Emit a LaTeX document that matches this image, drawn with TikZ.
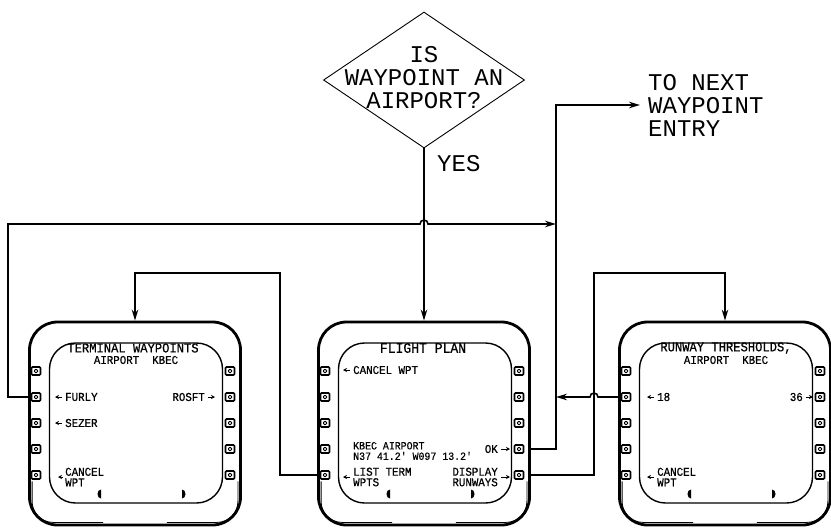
\documentclass[tikz,border=0pt]{standalone}
\usepackage{fontspec}
\newfontfamily\cadfont{Liberation Mono}
\newfontfamily\cadnarrow[FakeStretch=0.9, FakeBold=0.6]{Liberation Mono}
\usetikzlibrary{arrows.meta, positioning, shapes.geometric, calc}

\begin{document}
\begin{tikzpicture}[
    x=1pt, y=-1pt,
    >={Stealth[length=11pt,width=6.5pt]},
    bezel/.style={draw, line width=2.8pt, rounded corners=28pt,
                  minimum width=211pt, minimum height=203pt},
    screen/.style={draw, line width=1.4pt, rounded corners=26pt,
                   minimum width=173pt, minimum height=160pt},
    btn/.style={draw, line width=1.6pt, rounded corners=1pt, inner sep=0pt,
                minimum width=9pt, minimum height=8pt,
                path picture={\draw[line width=1pt]
                  ([shift={(-1.5pt,-1.5pt)}]path picture bounding box.center)
                  rectangle ++(3pt,3pt);}},
    decision/.style={draw, diamond, line width=0.9pt, inner sep=0pt,
                     minimum width=201pt, minimum height=136pt},
    big/.style={font=\cadfont\fontsize{24}{23}\selectfont, inner sep=0pt,
                align=left},
    title/.style={font=\cadnarrow\fontsize{13.5}{12}\selectfont, inner sep=0pt},
    lbl/.style={font=\cadnarrow\fontsize{12}{10.5}\selectfont, inner sep=0pt,
                align=left},
    conn/.style={line width=1.6pt},
    tick/.style={line width=1pt, -{Stealth[length=4pt,width=4pt]}}
  ]
  \useasboundingbox (0,0) rectangle (831,528);

  % decision
  \node[decision] (q) at (424,80) {};
  \node[big, align=center] (qtext) at (424,78) {IS\\WAYPOINT AN\\AIRPORT?};
  \node[big, anchor=west] (yes) at (437,164) {YES};
  \node[big, anchor=west] (next) at (648,105) {TO NEXT\\WAYPOINT\\ENTRY};

  % the three displays
  \foreach \s/\x in {tw/135, fp/424, rt/725} {
    \node[bezel] (\s) at (\x,423.5) {};
    \node[screen] (\s-in) at (\x+1,423) {};
    \draw[line width=0.8pt, rounded corners=21pt]
      ([shift={(4pt,45pt)}]\s.south west) |- ([shift={(75pt,4pt)}]\s.south west);
    \draw[line width=0.8pt, rounded corners=21pt]
      ([shift={(-4pt,45pt)}]\s.south east) |- ([shift={(-75pt,4pt)}]\s.south east);
    \foreach \i in {1,...,5} {
      \node[btn] (\s-l\i) at (\x-99,345+26*\i) {};
      \node[btn] (\s-r\i) at (\x+95,345+26*\i) {};
    }
    \fill (\x-34,489.5) arc[start angle=90, end angle=270,
                            x radius=3.5pt, y radius=4.5pt] -- cycle;
    \fill (\x+47,498.5) arc[start angle=-90, end angle=90,
                            x radius=3.5pt, y radius=4.5pt] -- cycle;
  }

  % terminal waypoints page
  \node[title] (twtitle) at (133,348) {TERMINAL WAYPOINTS};
  \node[lbl] (twsub) at (136,360) {AIRPORT~~KBEC};
  \node[lbl, anchor=west] (furly) at (65,397) {FURLY};
  \node[lbl, anchor=east] (rosft) at (205,397) {ROSFT};
  \node[lbl, anchor=west] (sezer) at (65,423) {SEZER};
  \node[lbl, anchor=west] (twcancel) at (65,477) {CANCEL\\WPT};
  \draw[tick] ([xshift=-3pt]furly.west) -- ++(-7pt,0);
  \draw[tick] ([xshift=3pt]rosft.east) -- ++(7pt,0);
  \draw[tick] ([xshift=-3pt]sezer.west) -- ++(-7pt,0);
  \draw[tick] ([xshift=-2pt]twcancel.west) -- ++(-5pt,0);

  % flight plan page
  \node[title, font=\cadnarrow\fontsize{14.5}{13}\selectfont] (fptitle)
    at (423,348) {FLIGHT PLAN};
  \node[lbl, anchor=west] (fpcancel) at (353,370) {CANCEL WPT};
  \node[lbl, anchor=west, font=\cadnarrow\fontsize{11}{10.5}\selectfont] (kbec)
    at (353,451) {KBEC AIRPORT\\N37 41.2' W097 13.2'};
  \node[lbl, anchor=east] (ok) at (498,449) {OK};
  \node[lbl, anchor=west] (listterm) at (353,477) {LIST TERM\\WPTS};
  \node[lbl, anchor=east, align=right] (disprwy) at (498,477) {DISPLAY\\RUNWAYS};
  \draw[tick] ([xshift=-3pt]fpcancel.west) -- ++(-7pt,0);
  \draw[tick] ([xshift=3pt]ok.east) -- ++(9pt,0);
  \draw[tick] ([xshift=3pt]disprwy.east) -- ++(9pt,0);
  \draw[tick] ([xshift=-3pt]listterm.west) -- ++(-7pt,0);

  % runway thresholds page
  \node[title] (rttitle) at (726,348) {RUNWAY THRESHOLDS,};
  \node[lbl] (rtsub) at (726,360) {AIRPORT~~KBEC};
  \node[lbl, anchor=west] (r18) at (657,397) {18};
  \node[lbl, anchor=east] (r36) at (803,397) {36};
  \node[lbl, anchor=west] (rtcancel) at (657,477) {CANCEL\\WPT};
  \draw[tick] ([xshift=-3pt]r18.west) -- ++(-7pt,0);
  \draw[tick] ([xshift=3pt]r36.east) -- ++(7pt,0);
  \draw[tick] ([xshift=-3pt]rtcancel.west) -- ++(-7pt,0);

  % connectors
  \coordinate (trunk) at (556,105);
  \coordinate (loop) at (8,224);
  \coordinate (termturn) at (280,273);
  \coordinate (rwyturn) at (594,273);

  \draw[conn,->] (q.south) -- (fp.north);
  \draw[conn,->] (tw.west |- tw-l2) -| (loop)
    -- ($(q.south |- loop)+(-4pt,0)$) arc[start angle=180, end angle=0, radius=4pt]
    -- (trunk |- loop);
  \draw[conn,->] (fp.east |- fp-r4) -| (trunk) -- ([xshift=-8pt]next.west);
  \draw[conn,->] (rt.west |- rt-l2) -- ($(rwyturn |- rt-l2)+(4pt,0)$)
    arc[start angle=0, end angle=180, radius=4pt] -- (trunk |- rt-l2);
  \draw[conn,->] (fp.west |- fp-l5) -| (termturn) -| (tw.north);
  \draw[conn,->] (fp.east |- fp-r5) -| (rwyturn) -| (rt.north);
\end{tikzpicture}
\end{document}
